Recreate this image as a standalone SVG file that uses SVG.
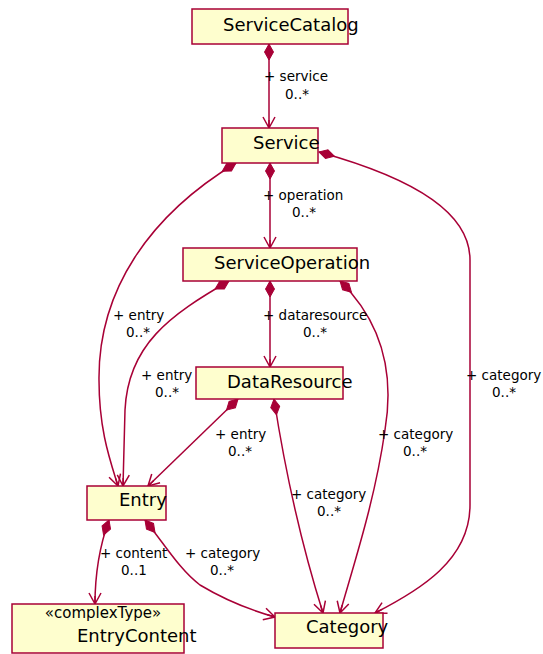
<svg xmlns="http://www.w3.org/2000/svg" width="543" height="654" viewBox="0 0 543 654">
<style>
.box{fill:#FEFECE;stroke:#A80036;stroke-width:1.5}
.name{font-family:"DejaVu Sans",sans-serif;font-size:18px;fill:#000}
.st{font-family:"DejaVu Sans",sans-serif;font-size:15px;fill:#000}
.lbl{font-family:"DejaVu Sans",sans-serif;font-size:13.5px;fill:#000}
.edge{fill:none;stroke:#A80036;stroke-width:1.5;marker-start:url(#dia);marker-end:url(#arr)}
</style>
<defs>
<marker id="dia" markerUnits="userSpaceOnUse" markerWidth="20" markerHeight="12" refX="1" refY="6" orient="auto">
<path d="M1,6 L9,1.5 L17,6 L9,10.5 Z" fill="#A80036" stroke="#A80036" stroke-width="1"/>
</marker>
<marker id="arr" markerUnits="userSpaceOnUse" markerWidth="14" markerHeight="14" refX="12" refY="7" orient="auto">
<path d="M1,1 L12,7 L1,13 M12,7 L4,7" fill="none" stroke="#A80036" stroke-width="1.5"/>
</marker>
</defs>
<g id="connectors">
<path class="edge" d="M269,44 L269,128"/>
<path class="edge" d="M270,163 L270,248"/>
<path class="edge" d="M270,281 L270,367"/>
<path class="edge" d="M236,163 C150,215 98,290 99,380 C99,430 110,460 118,486"/>
<path class="edge" d="M229,281 C170,315 128,345 125,410 L123,486"/>
<path class="edge" d="M238,399 L148,486"/>
<path class="edge" d="M274,399 C285,470 300,540 323,613"/>
<path class="edge" d="M340,281 C380,320 395,370 385,430 C375,500 355,560 340,613"/>
<path class="edge" d="M319,152 C420,180 470,215 470,260 L470,505 C470,560 420,590 375,613"/>
<path class="edge" d="M109,520 C100,545 95,570 95,604"/>
<path class="edge" d="M145,520 C165,545 180,570 200,585 C225,600 250,610 275,617"/>
</g>
<g id="labels">
<text class="lbl" x="264" y="81">+ service</text>
<text class="lbl" x="285" y="99">0..*</text>
<text class="lbl" x="263" y="200">+ operation</text>
<text class="lbl" x="292" y="217">0..*</text>
<text class="lbl" x="263" y="320">+ dataresource</text>
<text class="lbl" x="303" y="337">0..*</text>
<text class="lbl" x="113" y="320">+ entry</text>
<text class="lbl" x="126" y="337">0..*</text>
<text class="lbl" x="141" y="380">+ entry</text>
<text class="lbl" x="155" y="397">0..*</text>
<text class="lbl" x="215" y="439">+ entry</text>
<text class="lbl" x="228" y="456">0..*</text>
<text class="lbl" x="378" y="439">+ category</text>
<text class="lbl" x="403" y="456">0..*</text>
<text class="lbl" x="466" y="380">+ category</text>
<text class="lbl" x="492" y="397">0..*</text>
<text class="lbl" x="291" y="499">+ category</text>
<text class="lbl" x="317" y="516">0..*</text>
<text class="lbl" x="100" y="558">+ content</text>
<text class="lbl" x="121" y="575">0..1</text>
<text class="lbl" x="185" y="558">+ category</text>
<text class="lbl" x="210" y="575">0..*</text>
</g>
<g id="ServiceCatalog">
<rect class="box" x="192" y="9" width="156" height="35"/>
<text class="name" x="223" y="31">ServiceCatalog</text>
</g>
<g id="Service">
<rect class="box" x="222" y="128" width="96" height="35"/>
<text class="name" x="253" y="149">Service</text>
</g>
<g id="ServiceOperation">
<rect class="box" x="183" y="248" width="174" height="33"/>
<text class="name" x="214" y="269">ServiceOperation</text>
</g>
<g id="DataResource">
<rect class="box" x="196" y="367" width="147" height="32"/>
<text class="name" x="227" y="388">DataResource</text>
</g>
<g id="Entry">
<rect class="box" x="87" y="486" width="79" height="34"/>
<text class="name" x="119" y="506">Entry</text>
</g>
<g id="EntryContent">
<rect class="box" x="12" y="604" width="172" height="49"/>
<text class="st" x="103" y="618" text-anchor="middle">«complexType»</text>
<text class="name" x="77" y="642">EntryContent</text>
</g>
<g id="Category">
<rect class="box" x="275" y="613" width="108" height="35"/>
<text class="name" x="306" y="633">Category</text>
</g>
</svg>
